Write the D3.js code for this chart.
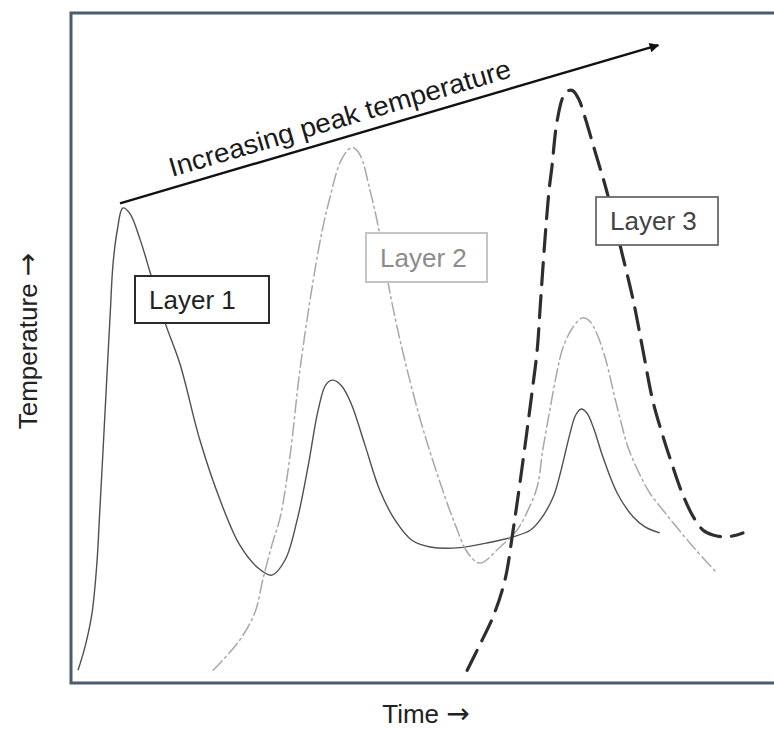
<!DOCTYPE html>
<html><head><meta charset="utf-8">
<script src="https://cdn.jsdelivr.net/npm/d3@7"></script>
<style>html,body{margin:0;padding:0;background:#fff;overflow:hidden}svg{display:block}</style>
</head><body>
<script>
// Time (0-100) vs Temperature (0-100), arbitrary units
const layer1 = [[1.0,1.9],[2.0,5.4],[3.0,10.4],[3.7,17.9],[4.1,25.4],[4.6,35.2],[5.1,45.2],[5.6,55.1],[6.0,62.5],[6.6,67.5],[7.4,70.9],[8.4,70.1],[9.9,66.1],[11.3,61.3],[13.4,53.9],[15.6,47.5],[18.4,36.3],[21.3,27.3],[24.1,20.6],[26.7,17.2],[28.7,16.1],[30.6,18.4],[32.3,24.3],[33.9,32.5],[35.3,40.7],[36.4,44.5],[37.4,45.2],[38.7,44.3],[40.1,41.5],[42.0,35.5],[44.1,28.8],[46.3,24.3],[48.7,21.3],[51.3,20.3],[55.6,20.2],[59.9,21.0],[63.1,21.8],[65.6,22.8],[67.0,24.3],[68.9,27.8],[69.9,31.3],[71.3,37.3],[72.1,40.0],[72.9,40.9],[73.7,40.3],[74.6,38.2],[76.0,33.7],[78.0,28.4],[80.3,24.8],[82.0,23.3],[84.1,22.4]];
const layer2 = [[20.3,1.9],[24.1,6.4],[26.3,10.6],[27.4,15.4],[28.7,20.6],[29.9,24.8],[31.3,34.0],[32.7,46.7],[34.6,60.1],[35.9,67.6],[37.0,72.5],[38.4,77.6],[39.6,79.6],[40.3,79.9],[41.3,78.8],[42.7,73.6],[43.9,68.1],[45.3,59.7],[47.0,51.2],[49.9,39.3],[52.7,30.0],[54.9,23.6],[56.7,19.4],[58.4,17.9],[61.3,20.3],[63.7,22.8],[65.1,25.4],[66.6,29.3],[67.4,34.8],[68.4,40.7],[69.4,46.3],[70.3,50.1],[71.7,53.1],[73.1,54.5],[74.1,54.0],[75.1,52.2],[76.4,48.2],[77.6,43.0],[78.6,38.8],[79.6,35.1],[80.9,31.9],[82.6,28.5],[85.1,25.1],[88.9,20.3],[92.3,16.4]];
const layer3 = [[56.6,1.9],[58.4,5.7],[60.3,9.9],[62.0,15.4],[63.1,22.4],[64.1,29.6],[65.1,37.3],[65.9,43.7],[66.6,49.7],[67.0,55.7],[67.7,66.1],[68.3,73.6],[68.7,77.0],[69.4,83.6],[70.3,87.5],[71.0,88.4],[71.7,88.4],[72.6,87.0],[73.4,84.5],[75.1,78.5],[76.3,74.3],[77.4,69.9],[78.7,64.2],[80.3,57.2],[81.7,49.7],[83.1,42.2],[84.6,36.7],[86.0,32.2],[87.4,28.1],[88.9,24.8],[90.3,22.8],[91.7,22.1],[93.7,21.8],[96.0,22.4]];
const seriesNames = ["Layer 1","Layer 2","Layer 3"];
const trendStart = [7.0,71.6], trendEnd = [83.9,95.2];
const trendLabel = "Increasing peak temperature";
const xLabel = "Time", yLabel = "Temperature", arrowGlyph = "\u2192";

const W = 774, H = 731;
const svg = d3.select("body").append("svg").attr("width", W).attr("height", H);
const x = d3.scaleLinear([0,100],[71,771]);
const y = d3.scaleLinear([0,100],[683,13]);
const font = "'Liberation Sans', Arial, sans-serif";

svg.append("defs").append("marker").attr("id","ah").attr("viewBox","0 0 10 10")
  .attr("refX",9).attr("refY",5).attr("markerWidth",5).attr("markerHeight",4).attr("orient","auto")
  .attr("markerUnits","strokeWidth")
  .append("path").attr("d","M0,0L10,5L0,10z").attr("fill","#111");

const line = d3.line().x(d=>x(d[0])).y(d=>y(d[1])).curve(d3.curveCatmullRom.alpha(0.5));
const styles = [
  {data: layer1, stroke:"#505050", w:1.4, dash:null},
  {data: layer2, stroke:"#a8a8a8", w:1.5, dash:"13,4,2,4"},
  {data: layer3, stroke:"#2e2e2e", w:3.2, dash:"22,11"}
];
styles.forEach(s=>{
  svg.append("path").attr("d", line(s.data)).attr("fill","none")
    .attr("stroke", s.stroke).attr("stroke-width", s.w)
    .attr("stroke-dasharray", s.dash).attr("stroke-linecap", s.dash? "round":"butt");
});

// trend arrow
svg.append("line").attr("x1",x(trendStart[0])).attr("y1",y(trendStart[1]))
  .attr("x2",x(trendEnd[0])).attr("y2",y(trendEnd[1]))
  .attr("stroke","#111").attr("stroke-width",2.4).attr("marker-end","url(#ah)");
const ang = Math.atan2(y(trendEnd[1])-y(trendStart[1]), x(trendEnd[0])-x(trendStart[0]))*180/Math.PI;
const tx = 172, ty = y(trendStart[1]) + (tx - x(trendStart[0]))*Math.tan(ang*Math.PI/180) - 11;
svg.append("text").attr("transform",`translate(${tx},${ty}) rotate(${ang})`)
  .attr("font-family",font).attr("font-size",27).attr("fill","#1a1a1a")
  .attr("textLength",355).attr("lengthAdjust","spacingAndGlyphs").text(trendLabel);

// label boxes
const boxes = [
  {name: seriesNames[0], x0:135, y0:276, w:134, h:47, stroke:"#2a2a2a", sw:2, fill:"#222"},
  {name: seriesNames[1], x0:366, y0:233, w:121, h:49, stroke:"#c4c4c4", sw:2, fill:"#8c8c8c"},
  {name: seriesNames[2], x0:596, y0:197, w:122, h:48, stroke:"#6a6a6a", sw:1.8, fill:"#444"}
];
boxes.forEach(b=>{
  svg.append("rect").attr("x",b.x0).attr("y",b.y0).attr("width",b.w).attr("height",b.h)
    .attr("fill","#fff").attr("stroke",b.stroke).attr("stroke-width",b.sw);
  svg.append("text").attr("x",b.x0+14).attr("y",b.y0+b.h/2+9).attr("font-family",font)
    .attr("font-size",26).attr("fill",b.fill).text(b.name);
});

// frame
svg.append("rect").attr("x",71).attr("y",13).attr("width",712).attr("height",670)
  .attr("fill","none").attr("stroke","#4b5b6c").attr("stroke-width",3);

// axis labels
function axisLabel(t, label, fs){
  t.attr("font-family",font).attr("font-size",fs).attr("fill","#222");
  t.append("tspan").text(label + " ");
  t.append("tspan").attr("font-family","'DejaVu Sans', sans-serif").attr("font-size",28).text(arrowGlyph);
}
axisLabel(svg.append("text").attr("x",426).attr("y",723).attr("text-anchor","middle"), xLabel, 26);
axisLabel(svg.append("text").attr("transform",`translate(37,341) rotate(-90)`).attr("text-anchor","middle"), yLabel, 26);
</script>
</body></html>
